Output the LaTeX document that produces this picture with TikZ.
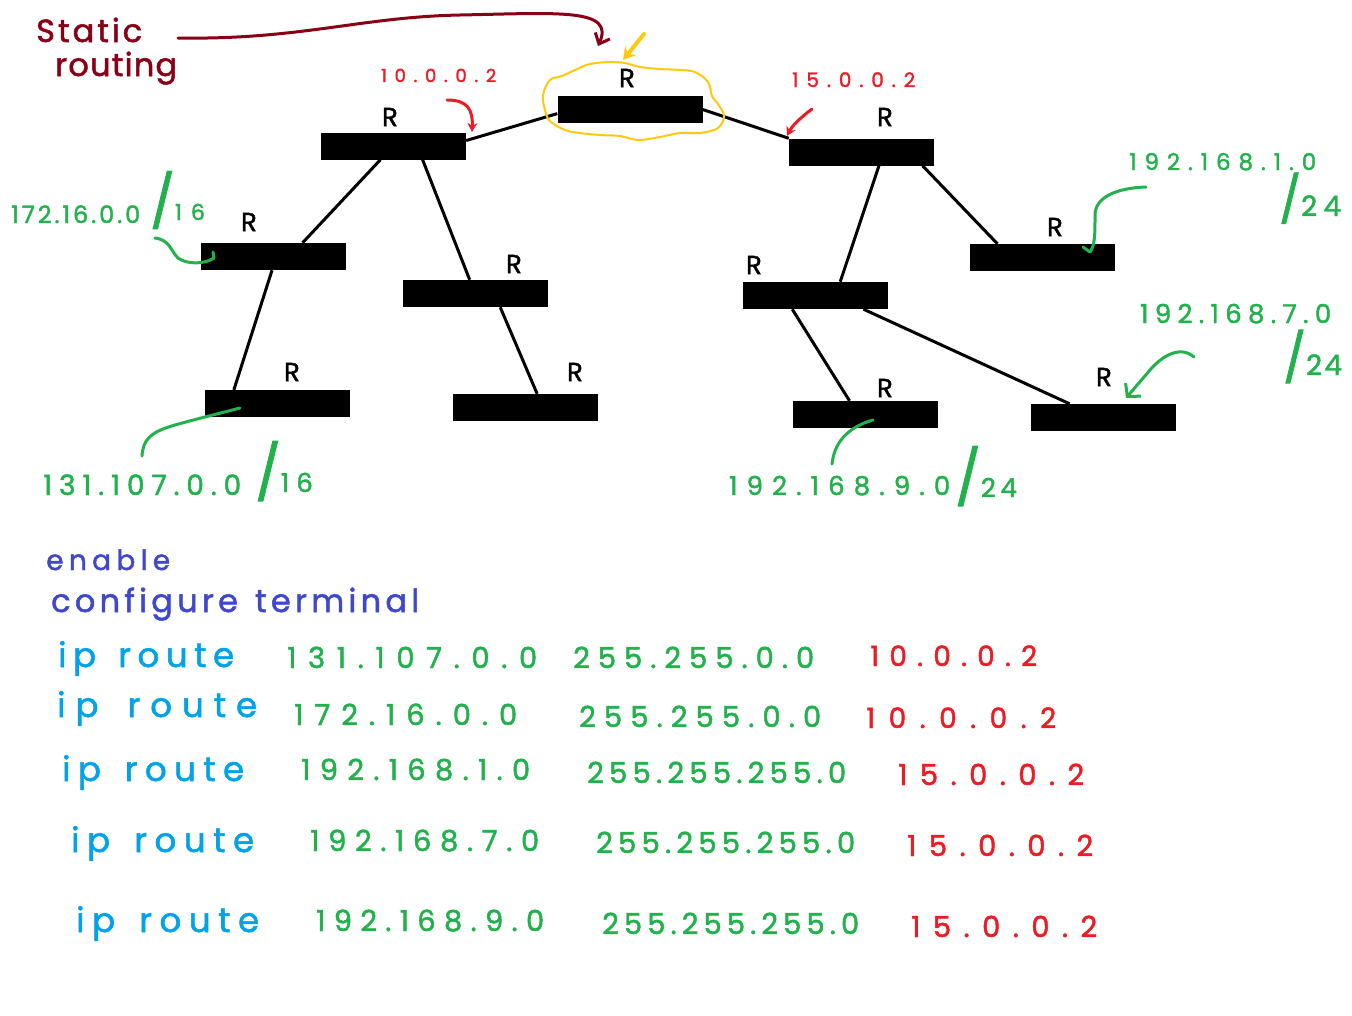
\documentclass[tikz,border=0pt]{standalone}
\usepackage{fontspec}
\usetikzlibrary{calc,arrows.meta}
\newfontfamily\hand[FakeBold=1.6]{Poppins}

% paint-style palette
\definecolor{pdarkred}{RGB}{136,0,21}
\definecolor{pred}{RGB}{237,28,36}
\definecolor{pgreen}{RGB}{34,177,76}
\definecolor{pindigo}{RGB}{63,72,204}
\definecolor{pcyan}{RGB}{0,162,232}
\definecolor{pgold}{RGB}{255,201,14}

% spread the characters of a string evenly over a given width
\def\handchars#1{\ifx#1\relax\else#1\hfil\expandafter\handchars\fi}
\newcommand\handspread[2]{\hbox to #1{\handchars#2\relax\unskip}}
\newcommand\fs[1]{\hand\fontsize{#1}{#1}\selectfont}

\tikzset{
  router/.style={fill=black, draw=none, minimum width=145pt, minimum height=27pt, inner sep=0pt},
  link/.style={line width=3pt, black},
  rlab/.style={font=\fs{26}, inner sep=0pt, text=black},
  txt/.style={anchor=base west, inner sep=0pt},
  marker/.style={line width=3pt, line cap=round, line join=round},
}

\begin{document}
\begin{tikzpicture}[x=1pt,y=-1pt]
\useasboundingbox (0,0) rectangle (1352,1015);
\fill[white] (0,0) rectangle (1352,1015);

% ---- routers ----
\node[router] (T)   at (630,109.5) {};
\node[router] (L1)  at (393.5,146) {};
\node[router] (R1)  at (861.5,152) {};
\node[router] (L2a) at (273.5,256.5) {};
\node[router] (L2b) at (475.5,293.5) {};
\node[router] (R2a) at (815.5,295.5) {};
\node[router] (R2b) at (1042.5,257.5) {};
\node[router] (L3a) at (277.5,403.5) {};
\node[router] (L3b) at (525.5,407.5) {};
\node[router] (R3a) at (865.5,414.5) {};
\node[router] (R3b) at (1103,417.5) {};

% router labels
\node[rlab] (rT)   at (627,78)  {R};
\node[rlab] (rL1)  at (390,117) {R};
\node[rlab] (rR1)  at (885,117) {R};
\node[rlab] (rL2a) at (249,222) {R};
\node[rlab] (rL2b) at (514,264) {R};
\node[rlab] (rR2a) at (754,265) {R};
\node[rlab] (rR2b) at (1055,227) {R};
\node[rlab] (rL3a) at (292,372) {R};
\node[rlab] (rL3b) at (575,372) {R};
\node[rlab] (rR3a) at (885,388) {R};
\node[rlab] (rR3b) at (1104,377) {R};

% ---- links ----
\draw[link] ($(L1.north east)!0.3!(L1.south east)$) -- ($(T.north west)!0.65!(T.south west)$);
\draw[link] (T.east) -- (R1.north west);
\draw[link] ($(L1.south west)!0.41!(L1.south east)$) -- ($(L2a.north west)!0.70!(L2a.north east)$);
\draw[link] ($(L1.south west)!0.70!(L1.south east)$) -- ($(L2b.north west)!0.46!(L2b.north east)$);
\draw[link] ($(L2a.south west)!0.49!(L2a.south east)$) -- ($(L3a.north west)!0.20!(L3a.north east)$);
\draw[link] ($(L2b.south west)!0.67!(L2b.south east)$) -- ($(L3b.north west)!0.58!(L3b.north east)$);
\draw[link] ($(R1.south west)!0.62!(R1.south east)$) -- ($(R2a.north west)!0.67!(R2a.north east)$);
\draw[link] ($(R1.south west)!0.92!(R1.south east)$) -- ($(R2b.north west)!0.19!(R2b.north east)$);
\draw[link] ($(R2a.south west)!0.34!(R2a.south east)$) -- ($(R3a.north west)!0.39!(R3a.north east)$);
\draw[link] ($(R2a.south west)!0.83!(R2a.south east)$) -- ($(R3b.north west)!0.27!(R3b.north east)$);

% ---- highlight around the top router ----
\draw[pgold, line width=2pt] plot[smooth cycle, tension=0.6] coordinates {
  (543,95) (550,80) (562,76) (575,70) (590,64) (610,62) (625,63) (640,67)
  (660,69) (680,70) (695,72) (708,82) (712,96) (718,104) (724,116) (718,128)
  (700,133) (680,133) (660,137) (638,140) (620,136) (600,135) (580,133)
  (565,130) (550,121) (545,110)};
\coordinate (goldtip) at (623,60);
\draw[pgold, line width=4pt, line cap=round, -{Stealth[length=12pt,width=14pt]}] (644,34) -- (goldtip);

% ---- title ----
\node[txt, text=pdarkred, font=\fs{32}] (title1) at (36,42) {\handspread{106pt}{Static}};
\node[txt, text=pdarkred, font=\fs{32}] (title2) at (55,76) {\handspread{122pt}{routing}};
\coordinate (titletip) at (598,46);
\draw[pdarkred, marker, -{Straight Barb[length=9pt,width=16pt,line width=3pt]}]
  (178,38) .. controls (300,40) and (360,17) .. (460,15)
           .. controls (560,13) and (615,8) .. (titletip);

% ---- next-hop labels ----
\node[txt, text=pred, font=\fs{18}] (hopA) at (381,82) {\handspread{115pt}{10.0.0.2}};
\node[txt, text=pred, font=\fs{20}] (hopB) at (792,87) {\handspread{123pt}{15.0.0.2}};
\coordinate (hopAtip) at (472,132);
\coordinate (hopBtip) at (787,136);
\draw[pred, marker, -{Stealth[length=9pt,width=10pt]}] (447,100) .. controls (468,100) and (473,110) .. (hopAtip);
\draw[pred, marker, -{Stealth[length=9pt,width=10pt]}] (812,109) .. controls (800,118) and (792,126) .. (hopBtip);

% ---- network labels ----
\begin{scope}[pgreen]
\node[txt, text=pgreen, font=\fs{24}] (n172) at (11,223) {\handspread{129pt}{172.16.0.0}};
\node[txt, text=pgreen, font=\fs{22}] (n172m) at (150,220) {{\fs{52}/}\handspread{30pt}{16}};
\draw[marker] (155,238) .. controls (170,240) and (170,250) .. (178,258)
  .. controls (188,265) and (205,264) .. (214,258) -- (213,252);

\node[txt, text=pgreen, font=\fs{28}] (n131) at (43,495) {\handspread{198pt}{131.107.0.0}};
\node[txt, text=pgreen, font=\fs{26}] (n131m) at (255,492) {{\fs{54}/}\handspread{32pt}{16}};
\draw[marker] (142,456) .. controls (143,440) and (150,432) .. (175,425)
  .. controls (200,418) and (225,412) .. (240,408);

\node[txt, text=pgreen, font=\fs{26}] (n1929) at (729,495) {\handspread{221pt}{192.168.9.0}};
\node[txt, text=pgreen, font=\fs{26}] (n1929m) at (955,497) {{\fs{54}/}\handspread{36pt}{24}};
\draw[marker] (832,464) .. controls (834,445) and (845,428) .. (873,420);

\node[txt, text=pgreen, font=\fs{23}] (n1921) at (1129,170) {\handspread{187pt}{192.168.1.0}};
\node[txt, text=pgreen, font=\fs{28}] (n1921m) at (1279,216) {{\fs{46}/}\handspread{40pt}{24}};
\draw[marker] (1146,187) .. controls (1115,188) and (1095,198) .. (1095,215)
  .. controls (1095,235) and (1095,245) .. (1090,252) -- (1083,247);

\node[txt, text=pgreen, font=\fs{26}] (n1927) at (1140,323) {\handspread{191pt}{192.168.7.0}};
\node[txt, text=pgreen, font=\fs{28}] (n1927m) at (1283,375) {{\fs{48}/}\handspread{36pt}{24}};
\coordinate (n1927tip) at (1126,398);
\draw[marker, -{Straight Barb[length=9pt,width=20pt,line width=3pt]}]
  (1194,357) .. controls (1180,345) and (1162,356) .. (1150,370) -- (n1927tip);
\end{scope}

% ---- configuration commands ----
\node[txt, text=pindigo, font=\fs{28}] (cmdA) at (46,570) {\handspread{124pt}{enable}};
\node[txt, text=pindigo, font=\fs{32}] (cmdB) at (51,612) {\handspread{368pt}{configure~terminal}};

\begin{scope}[every node/.append style={txt}]
\node[text=pcyan, font=\fs{34}] (ip1) at (58,667) {\handspread{176pt}{ip~route}};
\node[text=pgreen, font=\fs{29}] (ad1) at (287,668) {\handspread{250pt}{131.107.0.0}};
\node[text=pgreen, font=\fs{29}] (mk1) at (573,668) {\handspread{241pt}{255.255.0.0}};
\node[text=pred, font=\fs{28}] (gw1) at (870,666) {\handspread{167pt}{10.0.0.2}};

\node[text=pcyan, font=\fs{34}] (ip2) at (57,717) {\handspread{200pt}{ip~route}};
\node[text=pgreen, font=\fs{29}] (ad2) at (294,725) {\handspread{223pt}{172.16.0.0}};
\node[text=pgreen, font=\fs{29}] (mk2) at (579,727) {\handspread{242pt}{255.255.0.0}};
\node[text=pred, font=\fs{28}] (gw2) at (866,728) {\handspread{190pt}{10.0.0.2}};

\node[text=pcyan, font=\fs{34}] (ip3) at (62,781) {\handspread{182pt}{ip~route}};
\node[text=pgreen, font=\fs{29}] (ad3) at (301,780) {\handspread{229pt}{192.168.1.0}};
\node[text=pgreen, font=\fs{29}] (mk3) at (587,783) {\handspread{259pt}{255.255.255.0}};
\node[text=pred, font=\fs{29}] (gw3) at (898,785) {\handspread{186pt}{15.0.0.2}};

\node[text=pcyan, font=\fs{34}] (ip4) at (71,852) {\handspread{183pt}{ip~route}};
\node[text=pgreen, font=\fs{29}] (ad4) at (310,851) {\handspread{229pt}{192.168.7.0}};
\node[text=pgreen, font=\fs{29}] (mk4) at (596,853) {\handspread{259pt}{255.255.255.0}};
\node[text=pred, font=\fs{29}] (gw4) at (907,856) {\handspread{186pt}{15.0.0.2}};

\node[text=pcyan, font=\fs{34}] (ip5) at (76,932) {\handspread{183pt}{ip~route}};
\node[text=pgreen, font=\fs{29}] (ad5) at (316,931) {\handspread{228pt}{192.168.9.0}};
\node[text=pgreen, font=\fs{29}] (mk5) at (602,934) {\handspread{257pt}{255.255.255.0}};
\node[text=pred, font=\fs{29}] (gw5) at (911,937) {\handspread{186pt}{15.0.0.2}};
\end{scope}
\end{tikzpicture}
\end{document}
